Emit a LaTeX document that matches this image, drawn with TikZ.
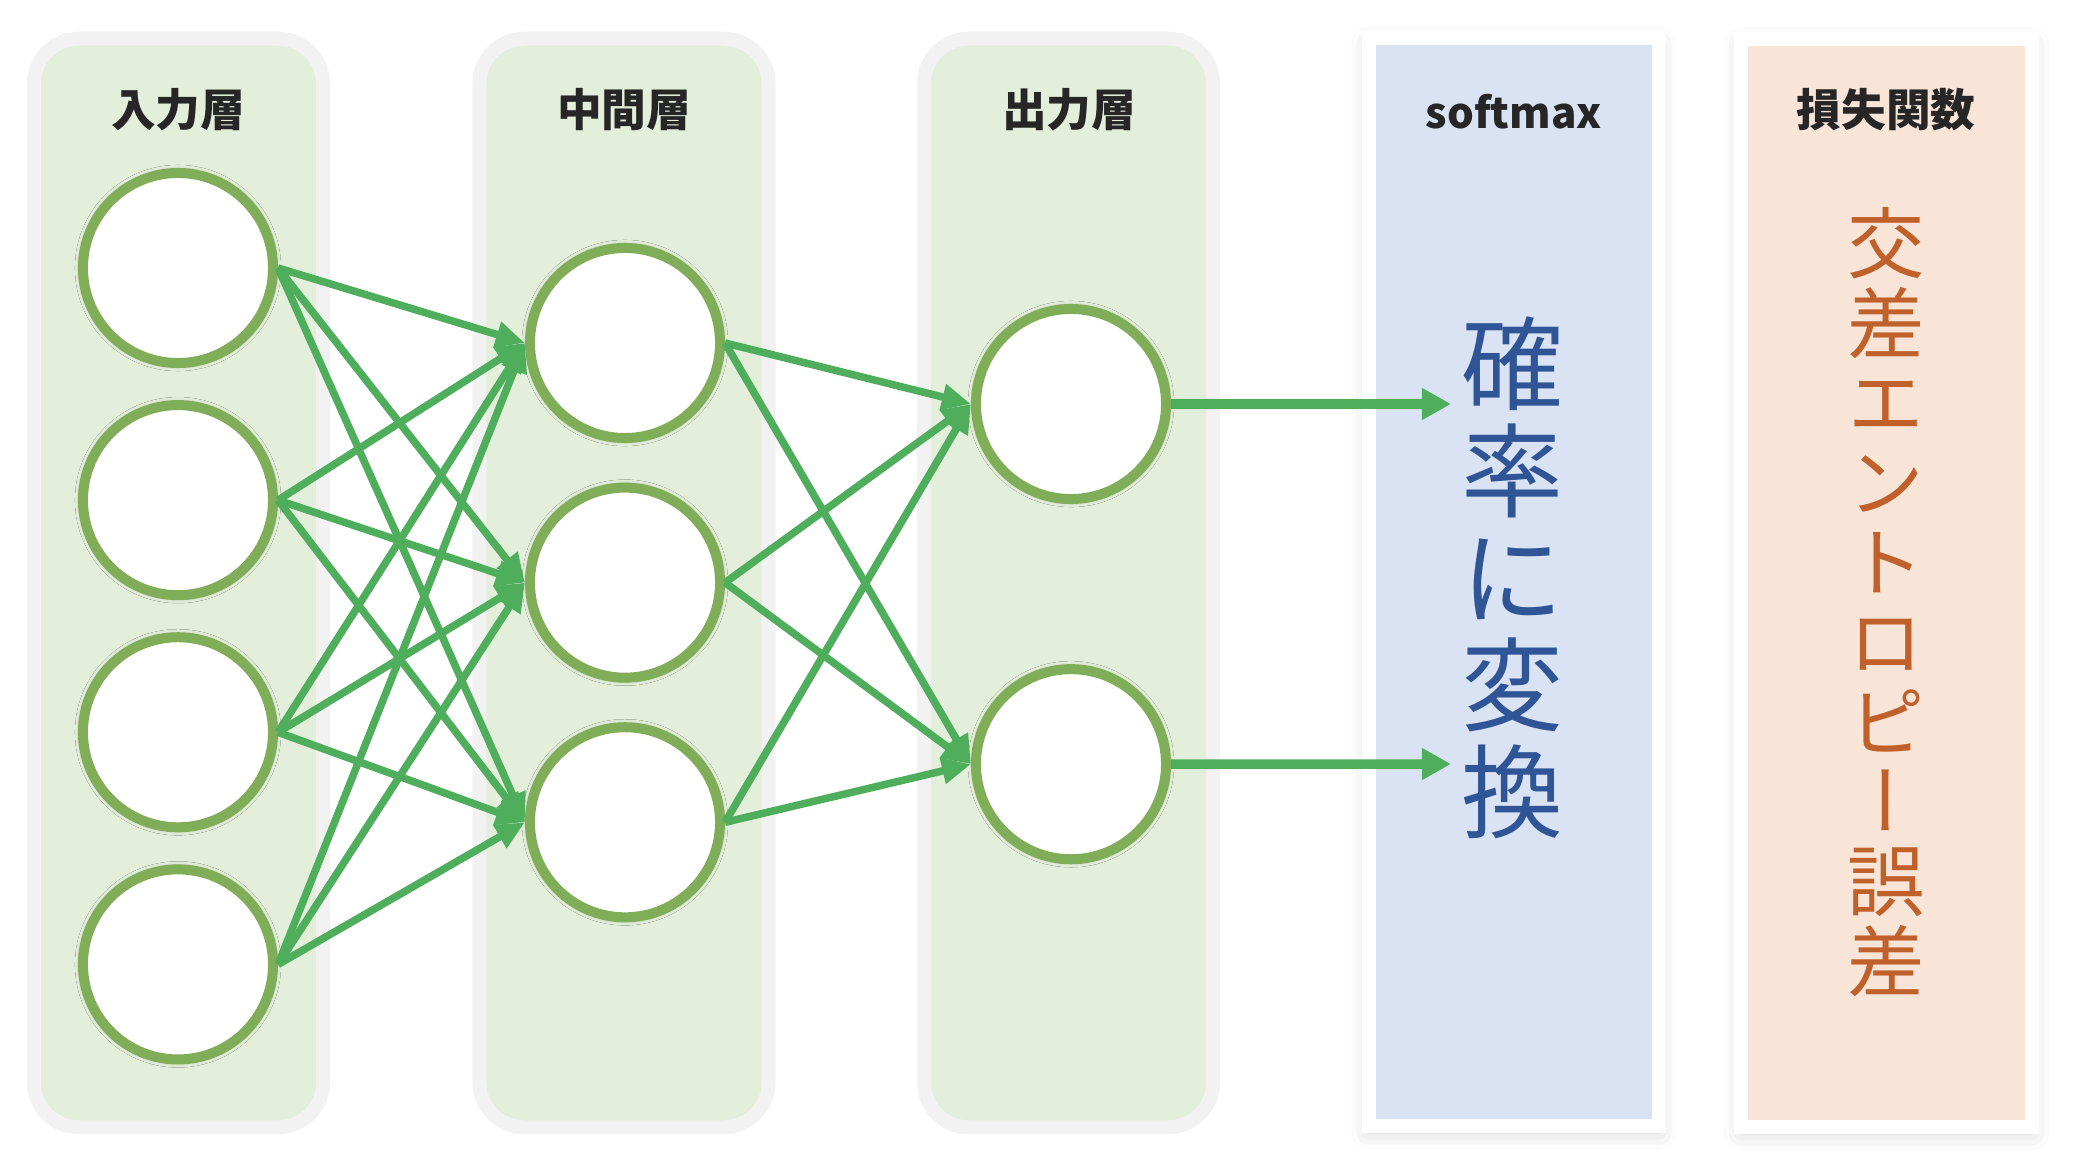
\documentclass[tikz,border=0pt]{standalone}
\usepackage{fontspec}
\setmainfont{Noto Sans CJK JP}
\newfontfamily\cjkvert{Noto Sans CJK JP}[RawFeature=+vert]
\usetikzlibrary{arrows.meta, shadows.blur}
\definecolor{layerfill}{HTML}{E3EEDB}
\definecolor{layerrim}{HTML}{F2F2F2}
\definecolor{unitrim}{HTML}{80AD58}
\definecolor{wirecol}{HTML}{4EAE5B}
\definecolor{softfill}{HTML}{DAE3F3}
\definecolor{softtext}{HTML}{2F5597}
\definecolor{lossfill}{HTML}{F8E5D8}
\definecolor{losstext}{HTML}{C0602A}

\begin{document}
\begin{tikzpicture}[x=0.01cm, y=-0.01cm, >={Triangle[length=2.9mm, width=2.5mm]},
    layer/.style={draw=layerrim, fill=layerfill, line width=1.4mm, rounded corners=4.5mm, minimum width=2.89cm, minimum height=10.88cm, inner sep=0pt},
    panel/.style={draw=white, line width=1.4mm, minimum width=2.9cm, minimum height=10.87cm, inner sep=0pt, blur shadow={shadow xshift=0pt, shadow yshift=-0.6mm, shadow blur radius=1.8mm, shadow opacity=18}},
    title/.style={font=\bfseries\fontsize{12.7}{14}\selectfont, text=black!85, inner sep=0pt},
    unit/.style={circle, draw=unitrim, fill=white, line width=1mm, minimum size=1.9cm, inner sep=0pt, blur shadow={shadow xshift=0pt, shadow yshift=0pt, shadow blur radius=0.8mm, shadow opacity=25}},
    wire/.style={->, draw=wirecol, line width=0.75mm}]
    \useasboundingbox (0, 0) rectangle (2078, 1176);

    % Layers
    \node (inlayer) [layer] at (178.5, 583) {};
    \node (midlayer) [layer] at (624, 583) {};
    \node (outlayer) [layer] at (1068.5, 583) {};
    \node (softbox) [panel, fill=softfill] at (1514, 582) {};
    \node (lossbox) [panel, fill=lossfill] at (1886.5, 583) {};

    % Titles
    \node (intitle) [title] at (178, 110) {入力層};
    \node (midtitle) [title] at (624, 110) {中間層};
    \node (outtitle) [title] at (1069, 110) {出力層};
    \node (softtitle) [title, font=\bfseries\fontsize{12}{14}\selectfont] at (1514, 112) {softmax};
    \node (losstitle) [title] at (1886, 110) {損失関数};

    % Units
    \node (i1) [unit] at (178, 268) {};
    \node (i2) [unit, node distance=2.32cm, below of=i1] {};
    \node (i3) [unit, node distance=2.32cm, below of=i2] {};
    \node (i4) [unit, node distance=2.32cm, below of=i3] {};
    \node (h1) [unit] at (625, 343) {};
    \node (h2) [unit, node distance=2.395cm, below of=h1] {};
    \node (h3) [unit, node distance=2.395cm, below of=h2] {};
    \node (o1) [unit] at (1071, 404) {};
    \node (o2) [unit, node distance=3.6cm, below of=o1] {};

    % Weights from input to hidden
    \draw[wire] (i1.east) -- (h1.west);
    \draw[wire] (i1.east) -- (h2.west);
    \draw[wire] (i1.east) -- (h3.west);
    \draw[wire] (i2.east) -- (h1.west);
    \draw[wire] (i2.east) -- (h2.west);
    \draw[wire] (i2.east) -- (h3.west);
    \draw[wire] (i3.east) -- (h1.west);
    \draw[wire] (i3.east) -- (h2.west);
    \draw[wire] (i3.east) -- (h3.west);
    \draw[wire] (i4.east) -- (h1.west);
    \draw[wire] (i4.east) -- (h2.west);
    \draw[wire] (i4.east) -- (h3.west);

    % Weights from hidden to output
    \draw[wire] (h1.east) -- (o1.west);
    \draw[wire] (h1.east) -- (o2.west);
    \draw[wire] (h2.east) -- (o1.west);
    \draw[wire] (h2.east) -- (o2.west);
    \draw[wire] (h3.east) -- (o1.west);
    \draw[wire] (h3.east) -- (o2.west);

    % Into softmax
    \coordinate (s1) at (1451, 404);
    \coordinate (s2) at (1451, 764);
    \draw[wire, line width=0.95mm, >={Triangle[length=2.9mm, width=3mm]}] (o1.east) -- (s1);
    \draw[wire, line width=0.95mm, >={Triangle[length=2.9mm, width=3mm]}] (o2.east) -- (s2);

    % Panel texts
    \node (prob) [align=center, inner sep=0pt, text=softtext, font=\fontsize{29}{30.4}\selectfont] at (1512, 578) {確\\率\\に\\変\\換};
    \node (xent) [align=center, inner sep=0pt, text=losstext, font=\cjkvert\fontsize{22}{22.7}\selectfont] at (1886, 602) {交\\差\\エ\\ン\\ト\\ロ\\ピ\\ー\\誤\\差};
\end{tikzpicture}
\end{document}
